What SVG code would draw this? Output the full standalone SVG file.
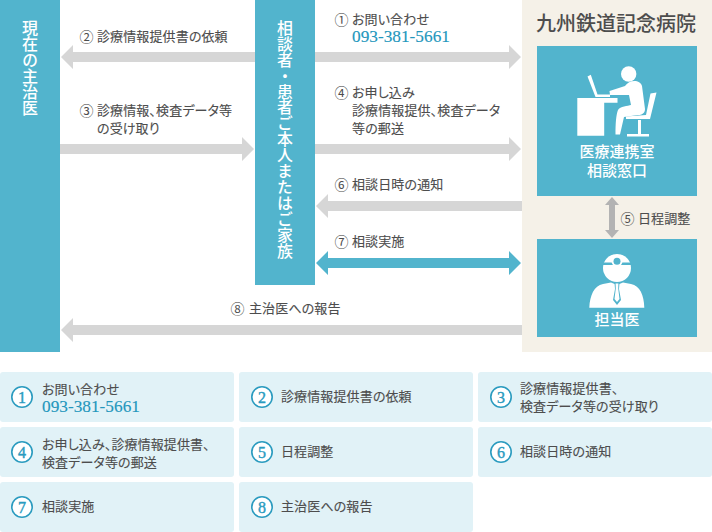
<svg xmlns="http://www.w3.org/2000/svg" width="712" height="532" viewBox="0 0 712 532">
<style>
text{font-family:"Noto Sans CJK JP","Noto Sans",sans-serif;font-feature-settings:"palt";}
.t{font-size:13px;font-weight:400;fill:#4d4d4d;stroke:#4d4d4d;stroke-width:.12;letter-spacing:.12px}
.o{font-size:14px;font-weight:400;fill:#4d4d4d;font-feature-settings:normal}
.tel{font-family:"Liberation Serif",serif;font-size:17.3px;fill:#2497bd;stroke:#2497bd;stroke-width:.15;font-feature-settings:normal}
.v{font-size:16px;font-weight:500;fill:#fff;writing-mode:vertical-rl;font-feature-settings:normal}
.w{font-size:15px;font-weight:500;fill:#fff;text-anchor:middle;font-feature-settings:normal}
.b{fill:#52b4cd}
.g{fill:#d6d6d6}
.l{fill:#e1f2f7}
.c{fill:#fff;stroke:#2a9bbf;stroke-width:1.6}
.n{font-family:"Liberation Serif",serif;font-size:16px;fill:#2a9bbf;stroke:#2a9bbf;stroke-width:.4;text-anchor:middle}
</style>
<rect width="712" height="532" fill="#fff"/>
<g id="hospital-panel"><rect x="522" y="0" width="190" height="352" fill="#f5f1e8"/>
<text x="616" y="31" font-size="20" font-weight="500" fill="#4d4d4d" text-anchor="middle" style="font-feature-settings:normal">九州鉄道記念病院</text></g>
<g id="current-doctor"><rect class="b" x="0" y="0" width="60" height="352"/>
<text class="v" x="30" y="20">現在の主治医</text></g>
<g id="patient"><rect class="b" x="255" y="0" width="60" height="285"/>
<text class="v" x="285" y="20" style="font-size:15.9px">相談者・患者ご本人またはご家族</text></g>
<g id="consult-desk"><rect class="b" x="537" y="46" width="160" height="150"/>
<g fill="#fff">
<circle cx="628.7" cy="74" r="7.7"/>
<path d="M577.3 98H617.5V102.8H604.2V135.8H577.3Z"/>
<path d="M587.5 76.5L590.8 74.8L597.5 94.5H610V97H595.5Z"/>
<path d="M609.5 91L625 86C629 79.5 640 79 642 86L645 109C645 113 642 115 638 115L624 117L620 134.5H615.5C615.5 124 616 115 618 110C620 106 628 106 631 105L629 95L610 95Z"/>
<path d="M650.5 93.5L656.5 92.5L650 119H626V116.5L646 115Z"/>
<path d="M638 120H641V134H649V136.5H627V134H638Z"/>
</g>
<text class="w" x="617" y="157">医療連携室</text>
<text class="w" x="617" y="176">相談窓口</text></g>
<g id="doctor"><rect class="b" x="537" y="239" width="160" height="98"/>
<g fill="#fff">
<circle cx="617" cy="268" r="14"/>
<path d="M589.3 307.7C590 295 594 286 603 284L611 282.5L617 285L623 282.5L631 284C640 286 644 295 644.3 307.7Z"/>
</g>
<rect class="b" x="603" y="262.5" width="28" height="2.5"/>
<circle cx="617" cy="261.3" r="5.5" fill="#fff"/><circle cx="617" cy="261.3" r="3.5" class="b"/>
<path class="b" d="M614.5 283L617 285L619.5 283L619 289L621 300L617 305L613 300L615 289Z" />
<path fill="#fff" d="M615.6 283.5H618.4L618.2 288.5L619.5 299L617 302L614.5 299L615.8 288.5Z"/>
<text class="w" x="617" y="325">担当医</text></g>
<g id="connectors">
<path class="g" d="M255 52H73V45L61 57L73 69V62H255Z"/>
<path class="g" d="M60 144H242V137L254 149L242 161V154H60Z"/>
<path class="g" d="M315 52H509V45L521 57L509 69V62H315Z"/>
<path class="g" d="M315 144H509V137L521 149L509 161V154H315Z"/>
<path class="g" d="M522 201H328V194L316 206L328 218V211H522Z"/>
<path class="b" d="M328 258H509V251L521 263L509 275V268H328V275L316 263L328 251Z"/>
<path class="g" d="M522 325H73V318L61 330L73 342V335H522Z"/>
<path fill="#b3b3b3" d="M612 197L619 205H615V230H619L612 238L605 230H609V205H605Z"/>
</g>
<g id="arrow-labels">
<text class="o" x="79.500" y="41.500">②</text><text class="t" x="97" y="41">診療情報提供書の依頼</text>
<text class="o" x="79.500" y="115.500">③</text><text class="t" x="97" y="115">診療情報、検査データ等</text><text class="t" x="97" y="133">の受け取り</text>
<text class="o" x="334.500" y="24.500">①</text><text class="t" x="352" y="24">お問い合わせ</text><text class="tel" x="352" y="42">093-381-5661</text>
<text class="o" x="334.500" y="97.500">④</text><text class="t" x="352" y="97">お申し込み</text><text class="t" x="352" y="115">診療情報提供、検査データ</text><text class="t" x="352" y="133">等の郵送</text>
<text class="o" x="334.500" y="189.500">⑥</text><text class="t" x="352" y="189">相談日時の通知</text>
<text class="o" x="334.500" y="246.500">⑦</text><text class="t" x="352" y="246">相談実施</text>
<text class="o" x="230.500" y="313.500">⑧</text><text class="t" x="249" y="313">主治医への報告</text>
<text class="o" x="620.500" y="223.500">⑤</text><text class="t" x="638" y="223">日程調整</text>
</g>
<g id="legend-1"><rect class="l" y="372" width="234" height="50" rx="3"/><circle class="c" cx="22" cy="397" r="10.2"/><text class="n" x="22" y="402.500">1</text><text class="t" x="42" y="394">お問い合わせ</text><text class="tel" x="42" y="412">093-381-5661</text></g>
<g id="legend-2"><rect class="l" x="239" y="372" width="234" height="50" rx="3"/><circle class="c" cx="262" cy="397" r="10.2"/><text class="n" x="262" y="402.500">2</text><text class="t" x="281" y="401">診療情報提供書の依頼</text></g>
<g id="legend-3"><rect class="l" x="478" y="372" width="234" height="50" rx="3"/><circle class="c" cx="501" cy="397" r="10.2"/><text class="n" x="501" y="402.500">3</text><text class="t" x="520" y="393">診療情報提供書、</text><text class="t" x="520" y="411">検査データ等の受け取り</text></g>
<g id="legend-4"><rect class="l" y="427" width="234" height="50" rx="3"/><circle class="c" cx="22" cy="452" r="10.2"/><text class="n" x="22" y="457.500">4</text><text class="t" x="42" y="449">お申し込み、診療情報提供書、</text><text class="t" x="42" y="467">検査データ等の郵送</text></g>
<g id="legend-5"><rect class="l" x="239" y="427" width="234" height="50" rx="3"/><circle class="c" cx="262" cy="452" r="10.2"/><text class="n" x="262" y="457.500">5</text><text class="t" x="281" y="456">日程調整</text></g>
<g id="legend-6"><rect class="l" x="478" y="427" width="234" height="50" rx="3"/><circle class="c" cx="501" cy="452" r="10.2"/><text class="n" x="501" y="457.500">6</text><text class="t" x="520" y="456">相談日時の通知</text></g>
<g id="legend-7"><rect class="l" y="482" width="234" height="50" rx="3"/><circle class="c" cx="22" cy="507" r="10.2"/><text class="n" x="22" y="512.500">7</text><text class="t" x="42" y="511">相談実施</text></g>
<g id="legend-8"><rect class="l" x="239" y="482" width="234" height="50" rx="3"/><circle class="c" cx="262" cy="507" r="10.2"/><text class="n" x="262" y="512.500">8</text><text class="t" x="281" y="511">主治医への報告</text></g>
</svg>
